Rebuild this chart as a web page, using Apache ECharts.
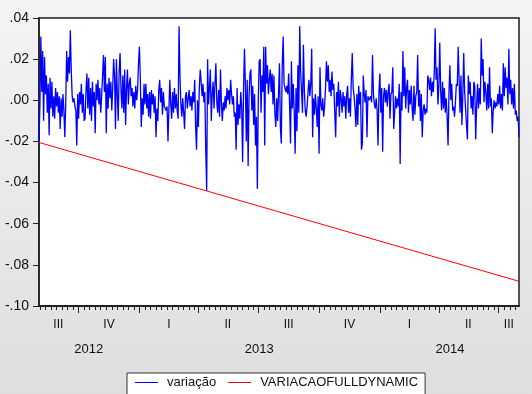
<!DOCTYPE html>
<html><head><meta charset="utf-8">
<script src="https://cdn.jsdelivr.net/npm/echarts@6/dist/echarts.min.js"></script>
<style>html,body{margin:0;padding:0;}#c{width:532px;height:394px;}</style>
</head><body><div id="c"></div><script>
// first business day of the sample
const startDate = '2012-08-01';
// daily (5-day week) series "variação"
const variacao = [
-0.020,-0.002,0.031,0.004,0.024,-0.010,0.021,0.003,0.012,-0.006,
0.008,-0.017,0.011,-0.004,0.009,-0.008,0.002,-0.009,0.006,-0.003,
0.004,-0.006,0.002,-0.014,0.001,-0.008,0.003,-0.005,-0.018,-0.002,
0.024,0.009,0.021,0.013,0.034,0.015,0.002,-0.001,0.001,-0.003,
-0.005,-0.022,0.003,-0.009,0.004,-0.002,0.008,-0.006,0.003,-0.010,
-0.009,0.005,0.013,-0.004,0.011,-0.007,0.006,-0.010,0.009,-0.003,
0.004,-0.016,0.008,0.000,0.010,-0.002,0.006,-0.006,0.002,0.012,
0.022,0.004,0.021,-0.016,0.008,-0.004,0.011,0.001,0.009,-0.005,
0.006,0.020,0.012,-0.014,0.020,0.003,-0.010,0.014,0.023,0.005,
-0.004,0.012,-0.006,0.015,-0.012,0.006,0.015,-0.002,0.008,0.011,
0.002,0.006,-0.003,0.004,-0.004,0.007,0.000,0.005,0.018,0.026,
0.010,-0.013,0.001,-0.007,0.008,-0.002,0.008,-0.004,0.003,-0.008,
0.004,-0.009,0.005,-0.002,0.003,-0.006,0.002,-0.018,-0.004,-0.010,
0.005,0.010,-0.001,0.006,-0.007,0.004,-0.003,-0.004,-0.005,-0.003,
-0.020,-0.004,0.010,-0.002,-0.009,0.004,-0.006,0.006,-0.004,0.003,
-0.005,-0.009,0.036,0.012,-0.002,-0.008,0.001,-0.006,-0.014,0.002,
0.004,-0.004,0.001,0.005,-0.003,0.002,-0.005,0.004,-0.001,0.010,
-0.013,-0.024,0.000,-0.013,0.006,0.015,0.009,0.002,0.008,-0.001,
0.004,-0.024,-0.044,0.020,-0.002,0.006,0.015,-0.010,0.003,0.009,
-0.004,0.008,0.018,-0.001,-0.006,0.005,-0.008,0.015,-0.002,-0.010,
-0.001,-0.005,0.002,-0.004,0.006,0.000,0.005,-0.002,0.010,0.003,
-0.002,0.002,-0.008,-0.006,-0.024,0.006,-0.012,-0.002,-0.009,0.004,
-0.003,-0.030,0.005,0.025,0.008,-0.020,0.010,-0.032,0.002,0.013,
0.015,-0.005,0.007,-0.012,0.003,-0.022,-0.008,-0.043,0.000,0.019,
0.020,-0.006,0.012,0.004,0.026,-0.022,0.026,0.008,0.017,0.003,
0.010,0.015,0.004,0.013,-0.002,0.012,-0.006,-0.013,0.001,-0.010,
0.003,0.018,-0.013,-0.021,0.017,0.031,0.008,0.006,0.004,0.007,
0.003,0.013,-0.002,-0.021,0.019,-0.004,0.008,-0.005,-0.026,0.006,
-0.015,0.017,-0.006,0.036,0.014,0.004,-0.006,0.027,0.005,-0.005,
-0.008,-0.003,0.004,0.010,0.002,0.008,0.025,-0.018,0.001,-0.007,
0.003,-0.004,-0.013,0.002,-0.026,0.016,-0.002,-0.005,0.001,-0.008,
-0.003,0.006,0.019,0.009,0.017,0.004,0.010,0.002,0.014,0.005,
0.008,-0.006,-0.018,0.004,-0.003,0.009,-0.008,0.005,0.001,-0.006,
0.004,-0.003,0.002,-0.009,0.003,0.007,-0.006,0.001,-0.008,0.010,
0.023,0.006,0.002,-0.004,-0.013,0.003,-0.012,0.007,-0.002,0.004,
-0.024,-0.021,0.012,0.003,-0.001,0.005,-0.018,0.002,0.000,0.001,
0.002,-0.001,0.022,0.003,-0.002,-0.004,0.001,-0.005,-0.022,0.004,
0.013,-0.006,0.006,-0.025,0.002,0.006,-0.001,0.005,-0.003,0.004,
0.008,-0.009,0.003,0.004,0.016,-0.014,-0.006,0.002,-0.004,0.001,
-0.003,0.008,-0.031,0.004,-0.005,0.024,0.002,0.016,-0.004,0.006,
0.010,-0.006,0.005,-0.002,0.007,-0.004,-0.010,0.007,-0.007,0.002,
0.004,0.022,-0.003,0.005,-0.010,0.003,-0.018,-0.005,-0.002,-0.007,
-0.004,-0.006,0.012,0.010,0.005,0.011,0.002,0.009,0.004,0.013,
0.035,0.010,0.016,-0.002,0.007,0.028,0.004,-0.005,0.009,-0.004,
0.006,-0.006,0.001,-0.008,-0.022,0.004,0.017,0.000,0.008,-0.005,
-0.003,-0.008,-0.001,0.008,0.007,0.026,0.010,-0.006,0.012,-0.012,
0.002,0.023,0.004,-0.004,-0.012,-0.019,0.012,0.003,0.009,-0.004,
0.002,-0.007,0.009,0.007,-0.019,-0.003,0.008,-0.004,0.006,-0.002,
0.030,0.012,0.020,-0.001,0.009,0.004,-0.005,0.008,-0.004,0.016,
-0.003,0.001,-0.016,-0.005,0.000,-0.004,-0.001,-0.003,0.003,-0.002,
0.007,-0.004,0.003,-0.005,0.018,0.002,0.016,0.006,0.011,-0.002,
0.025,0.003,0.010,-0.002,0.006,-0.004,0.008,-0.007,-0.005,-0.010,
-0.008,-0.018
];
// dynamic forecast VARIACAOFULLDYNAMIC (straight drift line): observation index / value
const forecastObs = [0, 521];
const forecastVal = [-0.0205, -0.088];
const quarterLabels = ['I', 'II', 'III', 'IV'];
const yMin = -0.10, yMax = 0.04, yStep = 0.02;

// business-day calendar
const dates = [];
{
  const d = new Date(startDate + 'T00:00:00Z');
  while (dates.length < variacao.length) {
    const wd = d.getUTCDay();
    if (wd !== 0 && wd !== 6) dates.push(d.toISOString().slice(0, 10));
    d.setUTCDate(d.getUTCDate() + 1);
  }
}
const qKey = s => s.slice(0, 4) + 'Q' + Math.floor((+s.slice(5, 7) - 1) / 3);
const quarters = [];
dates.forEach((s, i) => {
  const k = qKey(s);
  if (!quarters.length || quarters[quarters.length - 1].key !== k)
    quarters.push({ key: k, start: i, end: i, q: Math.floor((+s.slice(5, 7) - 1) / 3) });
  else quarters[quarters.length - 1].end = i;
});
const years = [];
dates.forEach((s, i) => {
  const y = s.slice(0, 4);
  if (!years.length || years[years.length - 1].y !== y) years.push({ y, start: i, end: i });
  else years[years.length - 1].end = i;
});
const majorTick = new Set(quarters.slice(1).map(q => q.start));
const minorTick = new Set();
quarters.forEach((q, qi) => {
  if (qi === 0) { for (let k = q.end + 1 - 6; k > 0; k -= 6) minorTick.add(k); return; }
  for (let k = q.start + 6; k <= q.end - 2; k += 6) minorTick.add(k);
});
const qLabelAt = {};
quarters.forEach(q => { qLabelAt[Math.round((q.start + q.end) / 2)] = quarterLabels[q.q]; });
const yLabelAt = {};
years.forEach(y => { yLabelAt[Math.round((y.start + y.end) / 2)] = y.y; });

const forecast = new Array(variacao.length).fill(null);
forecastObs.forEach((ix, k) => { forecast[ix] = forecastVal[k]; });

const font = "'Liberation Sans', Arial, sans-serif";
const frame = '#1e1e1e';
const chart = echarts.init(document.getElementById('c'), null, { renderer: 'canvas' });
chart.setOption({
  animation: false,
  backgroundColor: new echarts.graphic.LinearGradient(0, 0, 0, 1, [
    { offset: 0, color: '#f4f4f4' }, { offset: 1, color: '#dedede' }]),
  grid: { left: 39, right: 13, top: 18, bottom: 88, show: true, backgroundColor: '#ffffff',
    borderColor: frame, borderWidth: 1.5 },
  legend: {
    data: ['variação', 'VARIACAOFULLDYNAMIC'],
    left: 127, top: 373, icon: 'rect', itemWidth: 23, itemHeight: 1, itemGap: 12,
    padding: [3, 7, 10, 8], backgroundColor: '#ffffff', borderColor: '#333', borderWidth: 1,
    textStyle: { fontFamily: font, fontSize: 13, color: '#111', padding: [0, 0, 0, 4] }
  },
  xAxis: [{
    type: 'category', data: dates, boundaryGap: false, position: 'bottom',
    axisLine: { show: true, onZero: false, lineStyle: { color: frame, width: 1.5 } },
    axisTick: { show: true, length: 4, interval: (i) => minorTick.has(i), lineStyle: { color: '#222', width: 1 } },
    axisLabel: { show: true, interval: (i) => qLabelAt[i] !== undefined, formatter: (v, i) => qLabelAt[i] || '',
      margin: 13, fontFamily: font, fontSize: 12, color: '#111' },
    splitLine: { show: false }
  }, {
    type: 'category', data: dates, boundaryGap: false, position: 'bottom',
    axisLine: { show: true, onZero: false, lineStyle: { color: frame, width: 1.5 } },
    axisTick: { show: true, length: 7, interval: (i) => majorTick.has(i), lineStyle: { color: '#222', width: 1 } },
    axisLabel: { show: true, interval: (i) => yLabelAt[i] !== undefined, formatter: (v, i) => yLabelAt[i] || '',
      margin: 37, fontFamily: font, fontSize: 13, color: '#111' },
    splitLine: { show: false }
  }],
  yAxis: {
    type: 'value', min: yMin, max: yMax, interval: yStep, position: 'left',
    axisLine: { show: true, onZero: false, lineStyle: { color: frame, width: 1.5 } },
    axisTick: { show: true, length: 6, lineStyle: { color: '#222', width: 1 } },
    axisLabel: { show: true, margin: 10, fontFamily: font, fontSize: 14, color: '#111',
      formatter: v => { const s = v.toFixed(2); return s.replace('0.', '.'); } },
    splitLine: { show: false }
  },
  series: [{
    name: 'variação', type: 'line', data: variacao, color: '#0000ff', showSymbol: false,
    lineStyle: { width: 1.3, color: '#0000ff' }, silent: true, z: 3
  }, {
    name: 'VARIACAOFULLDYNAMIC', type: 'line', data: forecast, connectNulls: true, color: '#ff0000',
    showSymbol: false, lineStyle: { width: 1, color: '#ff0000' }, silent: true, z: 2
  }]
});
</script></body></html>
